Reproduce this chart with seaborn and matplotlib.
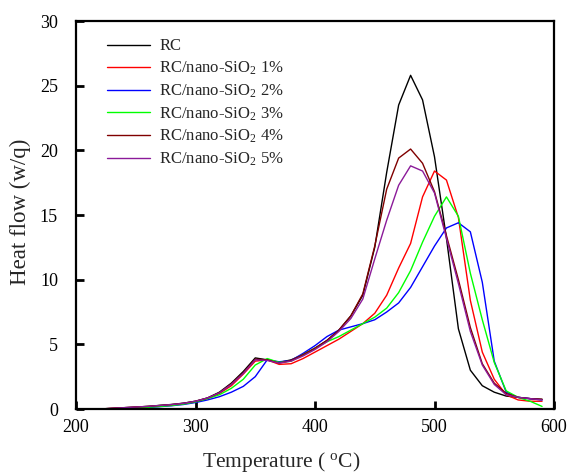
import numpy as np
import pandas as pd
import matplotlib
matplotlib.use("Agg")
import matplotlib.pyplot as plt
import seaborn as sns

temperature = [220, 230, 240, 250, 260, 270, 280, 290, 300, 310, 320, 330, 340, 350, 360, 370, 380, 390,
               400, 410, 420, 430, 440, 450, 460, 470, 480, 490, 500, 510, 520, 530, 540, 550, 560, 570, 580, 590]

rc = [0.0, 0.05, 0.1, 0.15, 0.2, 0.28, 0.35, 0.45, 0.6, 0.85, 1.3, 2.0, 2.9, 3.95, 3.8, 3.6, 3.8, 4.2,
      4.7, 5.3, 6.1, 7.2, 8.8, 12.5, 18.3, 23.5, 25.8, 23.9, 19.5, 13.2, 6.2, 3.0, 1.8, 1.3, 1.0, 0.9, 0.8, 0.75]
si1 = [0.0, 0.04, 0.08, 0.12, 0.17, 0.23, 0.3, 0.4, 0.55, 0.8, 1.2, 1.8, 2.7, 3.7, 3.8, 3.45, 3.5, 3.9,
       4.4, 4.9, 5.4, 6.0, 6.6, 7.4, 8.8, 10.9, 12.8, 16.4, 18.4, 17.7, 14.8, 8.4, 4.4, 2.3, 1.1, 0.7, 0.6, 0.6]
si2 = [0.0, 0.0, 0.03, 0.07, 0.12, 0.18, 0.25, 0.35, 0.5, 0.7, 0.95, 1.3, 1.75, 2.5, 3.8, 3.65, 3.75, 4.3,
       4.9, 5.6, 6.1, 6.35, 6.6, 6.9, 7.5, 8.2, 9.4, 11.0, 12.6, 14.0, 14.4, 13.7, 9.8, 3.7, 1.3, 0.9, 0.8, 0.7]
si3 = [0.0, 0.0, 0.03, 0.08, 0.13, 0.2, 0.27, 0.38, 0.55, 0.8, 1.1, 1.6, 2.3, 3.4, 3.9, 3.6, 3.7, 4.2,
       4.7, 5.2, 5.6, 6.1, 6.6, 7.1, 7.8, 9.0, 10.7, 12.9, 14.9, 16.4, 14.9, 10.5, 6.9, 3.6, 1.4, 0.9, 0.6, 0.2]
si4 = [0.0, 0.05, 0.1, 0.15, 0.2, 0.27, 0.34, 0.44, 0.6, 0.85, 1.25, 1.95, 2.8, 3.85, 3.8, 3.55, 3.75, 4.2,
       4.7, 5.3, 6.1, 7.2, 8.9, 12.6, 17.0, 19.4, 20.1, 19.0, 16.8, 13.4, 10.0, 6.3, 3.5, 2.0, 1.2, 0.9, 0.8, 0.75]
si5 = [0.0, 0.05, 0.1, 0.15, 0.2, 0.27, 0.34, 0.44, 0.6, 0.85, 1.25, 1.9, 2.75, 3.8, 3.75, 3.55, 3.7, 4.1,
       4.6, 5.2, 6.0, 7.0, 8.5, 11.6, 14.6, 17.3, 18.8, 18.4, 16.7, 13.2, 9.7, 6.0, 3.4, 1.9, 1.1, 0.9, 0.8, 0.7]

series_names = ["RC", "RC/nano-SiO$_2$ 1%", "RC/nano-SiO$_2$ 2%", "RC/nano-SiO$_2$ 3%",
                "RC/nano-SiO$_2$ 4%", "RC/nano-SiO$_2$ 5%"]
series_values = [rc, si1, si2, si3, si4, si5]
colors = ["#000000", "#ff0000", "#0000ff", "#00ff00", "#800000", "#8b1a99"]

x_ticks = [200, 300, 400, 500, 600]
y_ticks = [0, 5, 10, 15, 20, 25, 30]

frames = []
for name, vals in zip(series_names, series_values):
    frames.append(pd.DataFrame({"T": temperature, "H": vals, "sample": name}))
df = pd.concat(frames, ignore_index=True)

sns.set_style("ticks")
plt.rcParams["font.family"] = ["Liberation Serif", "DejaVu Serif"]
plt.rcParams["mathtext.fontset"] = "custom"
plt.rcParams["mathtext.rm"] = "Liberation Serif"
plt.rcParams["mathtext.it"] = "Liberation Serif"

fig = plt.figure(figsize=(5.69, 4.73), dpi=100)
ax = fig.add_axes([76 / 569, 1 - 409 / 473, (554 - 76) / 569, (409 - 21) / 473])

sns.lineplot(data=df, x="T", y="H", hue="sample", hue_order=series_names,
             palette=dict(zip(series_names, colors)), linewidth=1.0, ax=ax,
             estimator=None, sort=False)

ax.set_xlim(200, 600)
ax.set_ylim(0, 30)
ax.set_xticks(x_ticks)
ax.set_yticks(y_ticks)
ax.tick_params(axis="both", which="major", direction="in", length=6, width=2.0,
               labelsize=13, colors="black",
               bottom=True, left=True, top=False, right=False)
ax.tick_params(axis="x", pad=7)
ax.tick_params(axis="y", pad=13)
for s in ax.spines.values():
    s.set_linewidth(1.6)
    s.set_color("black")
    s.set_visible(True)

ax.set_xlabel("Temperature ( $^{\\rm o}$C)", fontsize=15.5)
ax.set_ylabel("Heat flow (w/q)", fontsize=16.5)
ax.xaxis.set_label_coords((281 - 76) / 478, -(462 - 409) / 388)
ax.yaxis.set_label_coords(-(76 - 20) / 478, (409 - 212) / 388)
ax.xaxis.label.set_va("center")
ax.yaxis.label.set_va("center")

leg = ax.legend(loc="upper left", bbox_to_anchor=(0.04, 0.985), frameon=False,
                fontsize=12, handlelength=2.6, handletextpad=0.55, labelspacing=0.32,
                borderaxespad=0.3)
for line in leg.get_lines():
    line.set_linewidth(1.0)

fig.savefig("out.png", dpi=100)
